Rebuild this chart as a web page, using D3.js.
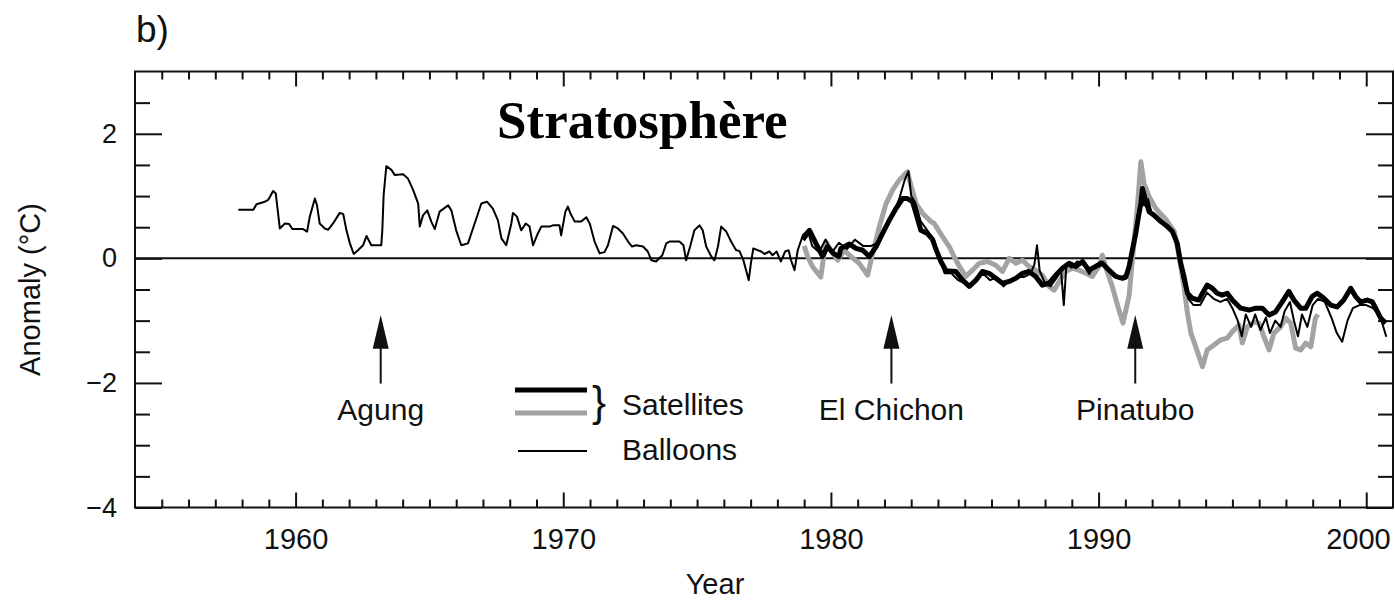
<!DOCTYPE html>
<html>
<head>
<meta charset="utf-8">
<script src="https://cdn.jsdelivr.net/npm/d3@7"></script>
<style>
  html, body { margin: 0; padding: 0; background: #fff; }
  svg { display: block; }
</style>
</head>
<body>
<script>
// ---------------- DATA ----------------
const xMajorTicks = [1960, 1970, 1980, 1990, 2000];
const yMajorTicks = [-4, -2, 0, 2];
const volcanoes = [
  { name: "Agung", year: 1963.18 },
  { name: "El Chichon", year: 1982.26 },
  { name: "Pinatubo", year: 1991.37 }
];
const legendItems = ["Satellites", "Balloons"];

// Balloons (radiosonde) [year, anomaly °C]
const balloons = [
[1957.86,0.78],[1958.42,0.78],[1958.54,0.87],[1958.85,0.91],[1958.98,0.94],[1959.16,1.08],[1959.26,1.04],[1959.41,0.48],[1959.6,0.56],[1959.76,0.55],[1959.88,0.47],[1960.28,0.47],[1960.43,0.43],[1960.53,0.67],[1960.72,0.96],[1960.8,0.85],[1960.9,0.56],[1961.09,0.48],[1961.22,0.46],[1961.4,0.56],[1961.65,0.73],[1961.78,0.71],[1961.9,0.45],[1962.03,0.24],[1962.17,0.07],[1962.33,0.13],[1962.52,0.21],[1962.65,0.36],[1962.83,0.21],[1963.2,0.21],[1963.24,0.45],[1963.29,1.02],[1963.39,1.48],[1963.58,1.42],[1963.7,1.34],[1964.02,1.35],[1964.2,1.28],[1964.39,1.1],[1964.58,0.88],[1964.64,0.51],[1964.76,0.69],[1964.92,0.77],[1965.07,0.59],[1965.2,0.47],[1965.38,0.75],[1965.7,0.85],[1965.82,0.77],[1966.0,0.45],[1966.19,0.21],[1966.44,0.24],[1966.69,0.56],[1966.94,0.88],[1967.15,0.91],[1967.37,0.8],[1967.56,0.61],[1967.69,0.32],[1967.87,0.21],[1968.06,0.56],[1968.12,0.73],[1968.27,0.67],[1968.43,0.45],[1968.6,0.56],[1968.74,0.51],[1968.87,0.21],[1969.05,0.4],[1969.18,0.51],[1969.49,0.51],[1969.61,0.53],[1969.86,0.53],[1969.92,0.37],[1970.08,0.75],[1970.17,0.83],[1970.27,0.72],[1970.43,0.59],[1970.67,0.59],[1970.86,0.66],[1970.99,0.56],[1971.17,0.27],[1971.36,0.08],[1971.54,0.1],[1971.67,0.21],[1971.86,0.52],[1972.04,0.48],[1972.23,0.4],[1972.42,0.27],[1972.57,0.19],[1972.72,0.21],[1972.98,0.19],[1973.16,0.11],[1973.29,-0.03],[1973.47,-0.05],[1973.7,0.05],[1973.85,0.24],[1973.97,0.27],[1974.34,0.27],[1974.49,0.21],[1974.59,-0.03],[1974.74,0.19],[1974.9,0.45],[1975.09,0.53],[1975.21,0.45],[1975.34,0.19],[1975.53,0.03],[1975.65,-0.03],[1975.78,0.19],[1975.9,0.51],[1976.09,0.43],[1976.27,0.27],[1976.46,0.13],[1976.58,0.12],[1976.73,-0.03],[1976.83,-0.19],[1976.93,-0.35],[1977.01,-0.08],[1977.1,0.16],[1977.27,0.13],[1977.4,0.11],[1977.52,0.07],[1977.7,0.11],[1977.82,0.05],[1977.97,0.11],[1978.13,-0.05],[1978.29,0.11],[1978.42,0.13],[1978.51,-0.03],[1978.64,-0.19],[1978.76,0.13],[1978.95,0.37],[1979.13,0.45],
[1979.3,0.2],[1979.55,0.1],[1979.8,0.3],[1980.05,0.1],[1980.3,0.25],[1980.6,0.15],[1980.9,0.3],[1981.2,0.2],[1981.5,0.2],[1981.75,0.25],[1982.0,0.45],[1982.3,0.7],[1982.55,0.95],[1982.75,1.25],[1982.9,1.4],[1983.0,1.0],[1983.15,0.9],[1983.35,0.6],[1983.6,0.45],[1983.85,0.3],[1984.05,0.0],[1984.25,-0.24],[1984.5,-0.24],[1984.75,-0.35],[1985.0,-0.4],[1985.2,-0.45],[1985.45,-0.3],[1985.7,-0.25],[1985.95,-0.35],[1986.2,-0.3],[1986.45,-0.45],[1986.7,-0.35],[1986.95,-0.3],[1987.2,-0.3],[1987.45,-0.25],[1987.6,-0.1],[1987.7,0.21],[1987.8,-0.2],[1988.0,-0.4],[1988.2,-0.45],[1988.45,-0.3],[1988.6,-0.2],[1988.7,-0.75],[1988.8,-0.1],[1989.0,-0.15],[1989.2,-0.05],[1989.45,-0.1],[1989.65,-0.25],[1989.9,-0.1],[1990.1,-0.05],[1990.35,-0.2],[1990.6,-0.3],[1990.85,-0.3],[1991.05,-0.25],[1991.25,0.1],[1991.45,0.6],[1991.6,1.0],[1991.7,0.85],[1991.85,0.95],[1992.0,0.7],[1992.3,0.6],[1992.6,0.5],[1992.85,0.35],[1993.0,0.0],[1993.15,-0.35],[1993.35,-0.65],[1993.55,-0.75],[1993.8,-0.75],[1994.05,-0.55],[1994.3,-0.65],[1994.55,-0.7],[1994.8,-0.65],[1995.0,-0.8],[1995.2,-1.0],[1995.35,-1.25],[1995.5,-0.9],[1995.7,-1.1],[1995.85,-0.9],[1996.05,-1.15],[1996.25,-0.95],[1996.4,-1.2],[1996.6,-1.0],[1996.8,-1.1],[1996.95,-0.85],[1997.15,-0.7],[1997.3,-1.0],[1997.45,-1.25],[1997.6,-0.9],[1997.8,-1.1],[1998.0,-0.75],[1998.2,-0.65],[1998.45,-0.7],[1998.7,-0.95],[1998.9,-1.2],[1999.1,-1.34],[1999.3,-1.0],[1999.5,-0.8],[1999.75,-0.75],[2000.0,-0.75],[2000.25,-0.8],[2000.5,-0.9],[2000.75,-1.26]
];

// Satellite record 1 (thick black)
const satelliteBlack = [
[1978.95,0.3],[1979.2,0.45],[1979.44,0.24],[1979.69,0.03],[1979.87,0.19],[1980.09,0.08],[1980.3,0.03],[1980.37,0.16],[1980.69,0.23],[1980.94,0.16],[1981.19,0.13],[1981.44,0.03],[1981.69,0.19],[1981.93,0.40],[1982.18,0.61],[1982.43,0.80],[1982.68,0.96],[1982.86,0.96],[1983.05,0.91],[1983.18,0.72],[1983.36,0.45],[1983.6,0.4],[1983.8,0.3],[1983.92,0.15],[1984.11,-0.05],[1984.3,-0.2],[1984.67,-0.21],[1984.92,-0.35],[1985.17,-0.45],[1985.42,-0.35],[1985.66,-0.21],[1985.91,-0.24],[1986.16,-0.32],[1986.41,-0.40],[1986.66,-0.37],[1986.91,-0.32],[1987.16,-0.24],[1987.4,-0.21],[1987.65,-0.29],[1987.9,-0.43],[1988.15,-0.40],[1988.4,-0.27],[1988.65,-0.16],[1988.9,-0.08],[1989.15,-0.13],[1989.4,-0.05],[1989.64,-0.19],[1989.89,-0.13],[1990.14,-0.08],[1990.39,-0.19],[1990.64,-0.29],[1990.89,-0.32],[1991.02,-0.3],[1991.14,-0.13],[1991.26,0.13],[1991.39,0.40],[1991.49,0.67],[1991.58,0.88],[1991.64,1.12],[1991.77,0.91],[1991.89,0.75],[1992.08,0.69],[1992.33,0.59],[1992.57,0.51],[1992.76,0.43],[1992.94,0.24],[1993.07,-0.08],[1993.19,-0.29],[1993.32,-0.56],[1993.5,-0.64],[1993.75,-0.67],[1993.88,-0.56],[1994.06,-0.43],[1994.25,-0.48],[1994.43,-0.56],[1994.62,-0.59],[1994.81,-0.56],[1995.0,-0.67],[1995.31,-0.80],[1995.62,-0.83],[1995.87,-0.80],[1996.12,-0.80],[1996.37,-0.91],[1996.61,-0.86],[1996.86,-0.70],[1997.11,-0.53],[1997.3,-0.67],[1997.55,-0.80],[1997.74,-0.80],[1997.98,-0.61],[1998.17,-0.56],[1998.42,-0.64],[1998.67,-0.75],[1998.91,-0.78],[1999.16,-0.67],[1999.42,-0.48],[1999.6,-0.61],[1999.79,-0.70],[2000.04,-0.67],[2000.23,-0.70],[2000.35,-0.80],[2000.54,-0.96],[2000.73,-1.04]
];

// Satellite record 2 (thick grey)
const satelliteGrey = [
[1979.0,0.2],[1979.13,0.03],[1979.31,-0.13],[1979.62,-0.3],[1979.81,0.27],[1980.0,0.13],[1980.25,-0.03],[1980.5,0.13],[1980.75,0.03],[1981.06,-0.08],[1981.37,-0.27],[1981.5,-0.03],[1981.81,0.51],[1982.06,0.88],[1982.31,1.10],[1982.56,1.26],[1982.74,1.34],[1982.86,1.39],[1982.99,1.17],[1983.18,0.88],[1983.43,0.72],[1983.74,0.59],[1983.86,0.56],[1984.17,0.35],[1984.42,0.19],[1984.6,0.03],[1984.8,-0.13],[1985.04,-0.29],[1985.29,-0.19],[1985.54,-0.08],[1985.85,-0.05],[1986.16,-0.11],[1986.41,-0.21],[1986.66,0.0],[1986.91,-0.08],[1987.16,-0.03],[1987.4,-0.13],[1987.65,-0.19],[1987.9,-0.27],[1988.15,-0.45],[1988.34,-0.51],[1988.53,-0.37],[1988.77,-0.21],[1989.02,-0.16],[1989.27,-0.19],[1989.52,-0.24],[1989.77,-0.29],[1990.01,-0.13],[1990.14,0.05],[1990.26,-0.13],[1990.51,-0.45],[1990.76,-0.83],[1990.91,-1.04],[1991.14,-0.6],[1991.33,0.29],[1991.45,0.83],[1991.58,1.55],[1991.7,1.2],[1991.89,0.99],[1992.14,0.80],[1992.52,0.62],[1992.83,0.43],[1992.94,0.19],[1993.07,-0.13],[1993.19,-0.45],[1993.32,-0.88],[1993.45,-1.2],[1993.63,-1.42],[1993.88,-1.74],[1994.06,-1.47],[1994.31,-1.39],[1994.56,-1.31],[1994.81,-1.28],[1994.99,-1.18],[1995.25,-1.07],[1995.37,-1.36],[1995.56,-1.10],[1995.81,-1.02],[1995.99,-1.04],[1996.18,-1.26],[1996.37,-1.47],[1996.55,-1.20],[1996.8,-1.10],[1996.99,-0.96],[1997.18,-1.04],[1997.36,-1.44],[1997.55,-1.47],[1997.74,-1.36],[1997.93,-1.42],[1998.1,-0.96],[1998.2,-0.9]
];

// ---------------- CHART ----------------
const W = 1395, H = 601;
const plot = { left: 135, right: 1393, top: 71.5, bottom: 507.5 };
const SANS = "'Liberation Sans', Arial, Helvetica, sans-serif";
const SERIF = "'Liberation Serif', 'Times New Roman', serif";

const svg = d3.select("body").append("svg").attr("width", W).attr("height", H);

const x = d3.scaleLinear().domain([1954, 2001]).range([plot.left, plot.right]);
const y = d3.scaleLinear().domain([-4, 3]).range([plot.bottom, plot.top]);

const xMinor = d3.range(1955, 2001, 1).filter(v => !xMajorTicks.includes(v));
const yMinor = d3.range(-3.5, 3.0, 0.5).filter(v => !yMajorTicks.includes(v));

function styleAxis(g) {
  g.select(".domain").remove();
  g.selectAll("line").attr("stroke", "#111").attr("stroke-width", 2);
  g.selectAll("text").style("font-family", SANS).attr("fill", "#111");
}

// bottom
const bottomMajor = svg.append("g").attr("transform", `translate(0,${plot.bottom})`)
  .call(d3.axisBottom(x).tickValues(xMajorTicks).tickSize(-15).tickPadding(21).tickFormat(d3.format("d")))
  .call(styleAxis);
bottomMajor.selectAll("text").style("font-size", "29px")
  .filter(d => d === 2000).attr("text-anchor", "end").attr("x", 24);
svg.append("g").attr("transform", `translate(0,${plot.bottom})`)
  .call(d3.axisBottom(x).tickValues(xMinor).tickSize(-8).tickFormat(""))
  .call(styleAxis);
// top
svg.append("g").attr("transform", `translate(0,${plot.top})`)
  .call(d3.axisTop(x).tickValues(xMajorTicks).tickSize(-15).tickFormat(""))
  .call(styleAxis);
svg.append("g").attr("transform", `translate(0,${plot.top})`)
  .call(d3.axisTop(x).tickValues(xMinor).tickSize(-8).tickFormat(""))
  .call(styleAxis);
// left
svg.append("g").attr("transform", `translate(${plot.left},0)`)
  .call(d3.axisLeft(y).tickValues(yMajorTicks).tickSize(-27).tickPadding(18).tickFormat(d3.format("d")))
  .call(styleAxis).selectAll("text").style("font-size", "27px");
svg.append("g").attr("transform", `translate(${plot.left},0)`)
  .call(d3.axisLeft(y).tickValues(yMinor).tickSize(-15).tickFormat(""))
  .call(styleAxis);
// right
svg.append("g").attr("transform", `translate(${plot.right},0)`)
  .call(d3.axisRight(y).tickValues(yMajorTicks).tickSize(-27).tickFormat(""))
  .call(styleAxis);
svg.append("g").attr("transform", `translate(${plot.right},0)`)
  .call(d3.axisRight(y).tickValues(yMinor).tickSize(-15).tickFormat(""))
  .call(styleAxis);

// frame
svg.append("rect")
  .attr("x", plot.left).attr("y", plot.top)
  .attr("width", plot.right - plot.left).attr("height", plot.bottom - plot.top)
  .attr("fill", "none").attr("stroke", "#111").attr("stroke-width", 2);

// zero line
svg.append("line")
  .attr("x1", x(1954)).attr("x2", x(2001)).attr("y1", y(0)).attr("y2", y(0))
  .attr("stroke", "#111").attr("stroke-width", 2);

// series
const line = d3.line().x(d => x(d[0])).y(d => y(d[1]));
svg.append("path").datum(satelliteGrey).attr("d", line)
  .attr("fill", "none").attr("stroke", "#a3a3a3").attr("stroke-width", 5).attr("stroke-linejoin", "round");
svg.append("path").datum(satelliteBlack).attr("d", line)
  .attr("fill", "none").attr("stroke", "#000").attr("stroke-width", 5).attr("stroke-linejoin", "round");
svg.append("path").datum(balloons).attr("d", line)
  .attr("fill", "none").attr("stroke", "#000").attr("stroke-width", 2).attr("stroke-linejoin", "round");

// volcano arrows
const vg = svg.selectAll("g.volcano").data(volcanoes).join("g").attr("class", "volcano");
vg.append("line")
  .attr("x1", d => x(d.year)).attr("x2", d => x(d.year))
  .attr("y1", y(-2.01)).attr("y2", y(-1.4))
  .attr("stroke", "#111").attr("stroke-width", 2);
vg.append("path")
  .attr("d", d => {
    const cx = x(d.year), tip = y(-0.91), base = y(-1.45);
    return `M${cx},${tip} L${cx + 8},${base} L${cx - 8},${base} Z`;
  })
  .attr("fill", "#111");
vg.append("text")
  .attr("x", d => x(d.year)).attr("y", 420)
  .attr("text-anchor", "middle").style("font-family", SANS).style("font-size", "30px").attr("fill", "#111")
  .text(d => d.name);

// legend
const lg = svg.append("g");
lg.append("line").attr("x1", 515).attr("x2", 587).attr("y1", 390).attr("y2", 390)
  .attr("stroke", "#000").attr("stroke-width", 5);
lg.append("line").attr("x1", 515).attr("x2", 587).attr("y1", 413).attr("y2", 413)
  .attr("stroke", "#a3a3a3").attr("stroke-width", 5);
lg.append("line").attr("x1", 518).attr("x2", 587).attr("y1", 451).attr("y2", 451)
  .attr("stroke", "#000").attr("stroke-width", 2);
lg.append("text").attr("x", 592).attr("y", 416)
  .style("font-family", SANS).style("font-size", "42px").attr("fill", "#111").text("}");
lg.selectAll("text.lab").data(legendItems).join("text").attr("class", "lab")
  .attr("x", 622).attr("y", (d, i) => i === 0 ? 415 : 460)
  .style("font-family", SANS).style("font-size", "30px").attr("fill", "#111").text(d => d);

// titles
svg.append("text").attr("x", 136).attr("y", 42)
  .style("font-family", SANS).style("font-size", "37px").attr("fill", "#111").text("b)");
svg.append("text").attr("x", 497).attr("y", 138)
  .style("font-family", SERIF).style("font-weight", "bold").style("font-size", "53px").attr("fill", "#000")
  .text("Stratosphère");
svg.append("text").attr("x", 715).attr("y", 594).attr("text-anchor", "middle")
  .style("font-family", SANS).style("font-size", "29px").attr("fill", "#111").text("Year");
svg.append("text")
  .attr("transform", `translate(40,${(plot.top + plot.bottom) / 2}) rotate(-90)`)
  .attr("text-anchor", "middle").style("font-family", SANS).style("font-size", "29px").attr("fill", "#111")
  .text("Anomaly (°C)");
</script>
</body>
</html>
